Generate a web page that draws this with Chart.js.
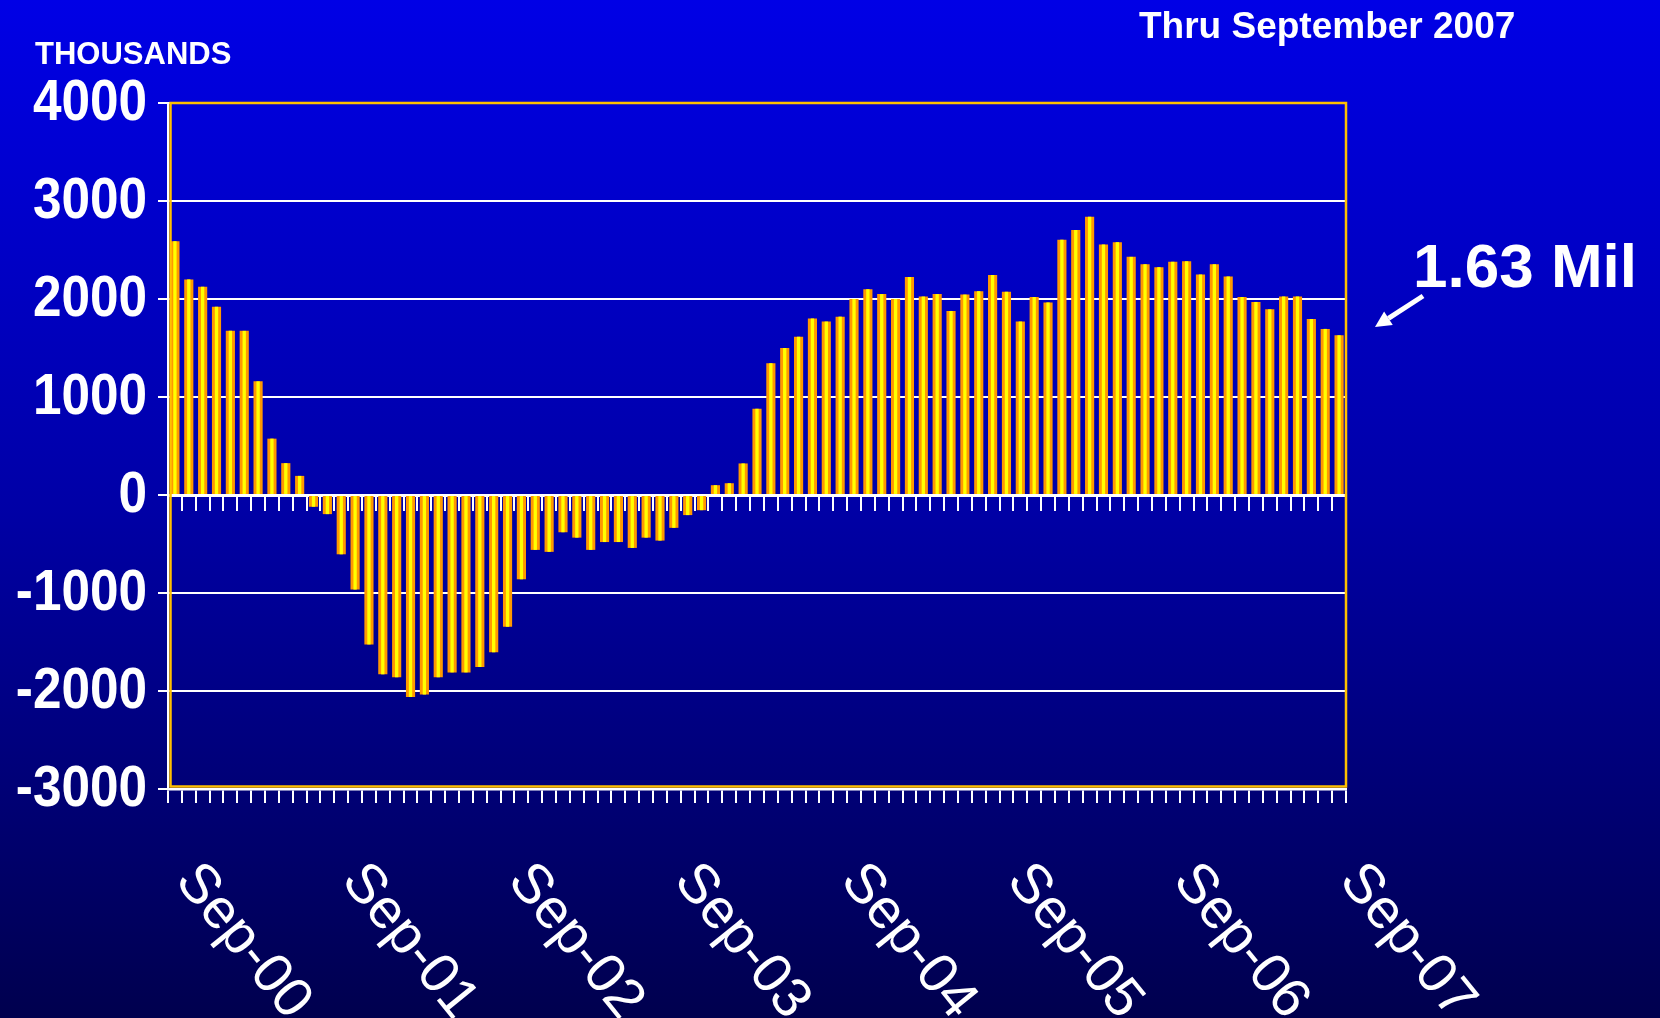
<!DOCTYPE html>
<html>
<head>
<meta charset="utf-8">
<title>Payroll change - thru September 2007</title>
<script src="https://cdn.jsdelivr.net/npm/chart.js@4.4.0/dist/chart.umd.min.js"></script>
<style>
  html, body { margin: 0; padding: 0; }
  body {
    width: 1660px; height: 1018px; overflow: hidden;
    background: linear-gradient(to bottom, #0000e6 0%, #0000a6 50%, #00004e 100%);
  }
  #wrap { position: relative; width: 1660px; height: 1018px; }
</style>
</head>
<body>
<div id="wrap"><canvas id="payrollChart" width="1660" height="1018"></canvas></div>
<script>
// monthly categories, Sep-00 .. Sep-07
const months = [
  'Sep-00','Oct-00','Nov-00','Dec-00','Jan-01','Feb-01','Mar-01','Apr-01','May-01','Jun-01','Jul-01','Aug-01',
  'Sep-01','Oct-01','Nov-01','Dec-01','Jan-02','Feb-02','Mar-02','Apr-02','May-02','Jun-02','Jul-02','Aug-02',
  'Sep-02','Oct-02','Nov-02','Dec-02','Jan-03','Feb-03','Mar-03','Apr-03','May-03','Jun-03','Jul-03','Aug-03',
  'Sep-03','Oct-03','Nov-03','Dec-03','Jan-04','Feb-04','Mar-04','Apr-04','May-04','Jun-04','Jul-04','Aug-04',
  'Sep-04','Oct-04','Nov-04','Dec-04','Jan-05','Feb-05','Mar-05','Apr-05','May-05','Jun-05','Jul-05','Aug-05',
  'Sep-05','Oct-05','Nov-05','Dec-05','Jan-06','Feb-06','Mar-06','Apr-06','May-06','Jun-06','Jul-06','Aug-06',
  'Sep-06','Oct-06','Nov-06','Dec-06','Jan-07','Feb-07','Mar-07','Apr-07','May-07','Jun-07','Jul-07','Aug-07',
  'Sep-07'
];

// year-over-year change, thousands
const changeThousands = [
  2590, 2200, 2125, 1920, 1675, 1675, 1160, 575, 325, 195, -120, -195,
  -605, -965, -1525, -1830, -1860, -2060, -2035, -1860, -1810, -1810, -1755, -1605,
  -1345, -860, -560, -580, -380, -435, -560, -480, -480, -540, -435, -465,
  -335, -205, -155, 100, 120, 322, 880, 1345, 1500, 1615, 1800, 1770,
  1820, 2000, 2100, 2050, 2000, 2225, 2025, 2050, 1878, 2045, 2080, 2245,
  2075, 1770, 2020, 1965, 2605, 2705, 2840, 2555, 2580, 2430, 2355, 2325,
  2380, 2385, 2250, 2355, 2230, 2020, 1970, 1895, 2025, 2025, 1795, 1695,
  1630
];

const xTickLabels = ['Sep-00','Sep-01','Sep-02','Sep-03','Sep-04','Sep-05','Sep-06','Sep-07'];
const yMin = -3000, yMax = 4000, yStep = 1000;

const unitLabel = 'THOUSANDS';
const periodLabel = 'Thru September 2007';
const latestLabel = '1.63 Mil';

const SANS = '"Liberation Sans", Arial, Helvetica, sans-serif';

// gold frame, axis labels and the text annotations
const decorPlugin = {
  id: 'decor',
  afterDatasetsDraw(chart) {
    const { ctx, chartArea: a } = chart;
    ctx.save();
    ctx.strokeStyle = '#ffc000';
    ctx.lineWidth = 2.5;
    ctx.strokeRect(a.left + 2.5, a.top, a.right - a.left - 2.5, a.bottom - a.top - 2.5);
    ctx.restore();
  },
  afterDraw(chart) {
    const { ctx } = chart;
    const xs = chart.scales.x;
    const ys = chart.scales.y;
    const bottom = chart.chartArea.bottom;
    ctx.save();
    ctx.fillStyle = '#fff';

    // y labels: bold, a little condensed like the original
    ctx.font = 'bold 57px ' + SANS;
    ctx.textAlign = 'right';
    ctx.textBaseline = 'middle';
    ys.ticks.forEach(t => {
      ctx.save();
      ctx.translate(ys.right - 21, ys.getPixelForValue(t.value) + 1);
      ctx.scale(0.9, 1);
      ctx.fillText(String(t.value), 0, 0);
      ctx.restore();
    });

    // month labels, rotated down to the right
    ctx.font = '56px ' + SANS;
    ctx.textAlign = 'left';
    ctx.textBaseline = 'alphabetic';
    months.forEach((m, i) => {
      if (!xTickLabels.includes(m)) return;
      ctx.save();
      ctx.translate(xs.getPixelForValue(i) - 1, bottom + 92);
      ctx.rotate(51 * Math.PI / 180);
      ctx.fillText(m, 0, 0);
      ctx.restore();
    });

    ctx.font = 'bold 31px ' + SANS;
    ctx.fillText(unitLabel, 35, 64);
    ctx.font = 'bold 37px ' + SANS;
    ctx.fillText(periodLabel, 1139, 38);
    ctx.font = 'bold 62px ' + SANS;
    ctx.fillText(latestLabel, 1413, 287);

    // arrow pointing at the last bar
    const tail = { x: 1423, y: 296 }, tip = { x: 1375, y: 327 };
    const dx = tip.x - tail.x, dy = tip.y - tail.y;
    const len = Math.hypot(dx, dy);
    const ux = dx / len, uy = dy / len;
    const headLen = 16, headHalf = 8;
    const bx = tip.x - ux * headLen, by = tip.y - uy * headLen;
    ctx.strokeStyle = '#fff';
    ctx.lineWidth = 5;
    ctx.beginPath();
    ctx.moveTo(tail.x, tail.y);
    ctx.lineTo(bx, by);
    ctx.stroke();
    ctx.beginPath();
    ctx.moveTo(tip.x, tip.y);
    ctx.lineTo(bx - uy * headHalf, by + ux * headHalf);
    ctx.lineTo(bx + uy * headHalf, by - ux * headHalf);
    ctx.closePath();
    ctx.fill();
    ctx.restore();
  }
};

const ctx = document.getElementById('payrollChart').getContext('2d');
new Chart(ctx, {
  type: 'bar',
  data: {
    labels: months,
    datasets: [
      {
        label: 'Change',
        data: changeThousands,
        backgroundColor: '#ff9900',
        borderWidth: 0,
        barPercentage: 0.66,
        categoryPercentage: 1,
        grouped: false,
        order: 2
      },
      {
        // highlight stripe for the cylinder look
        label: 'Highlight',
        data: changeThousands,
        backgroundColor: '#ffff00',
        borderWidth: 0,
        barPercentage: 0.24,
        categoryPercentage: 1,
        grouped: false,
        order: 1
      }
    ]
  },
  options: {
    responsive: false,
    animation: false,
    events: [],
    layout: { padding: { top: 103, right: 314, left: 0, bottom: 0 } },
    plugins: {
      legend: { display: false },
      tooltip: { enabled: false }
    },
    scales: {
      x: {
        type: 'category',
        offset: true,
        ticks: { display: false },
        grid: { display: true, offset: true, drawOnChartArea: false, drawTicks: true, tickLength: 14, color: '#fff', lineWidth: 2 },
        border: { color: '#fff', width: 2.5 },
        afterFit(s) { s.height = 229; }
      },
      x0: {
        type: 'category',
        position: { y: 0 },
        offset: true,
        ticks: { display: false },
        grid: { display: true, offset: true, drawOnChartArea: false, drawTicks: true, tickLength: 14, color: '#fff', lineWidth: 2 },
        border: { color: '#fff', width: 3 }
      },
      y: {
        min: yMin,
        max: yMax,
        ticks: { stepSize: yStep, display: false },
        grid: { color: '#fff', lineWidth: 2, drawTicks: true, tickLength: 10 },
        border: { color: '#fff', width: 2 },
        afterFit(s) { s.width = 168; }
      }
    }
  },
  plugins: [decorPlugin]
});
</script>
</body>
</html>
